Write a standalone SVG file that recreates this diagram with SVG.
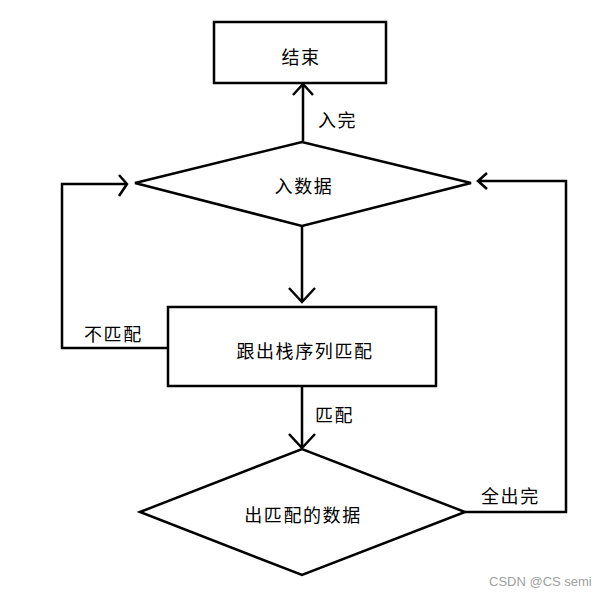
<svg xmlns="http://www.w3.org/2000/svg" width="602" height="596" viewBox="0 0 602 596">
<style>
.s{fill:#fff;stroke:#000;stroke-width:2.5}
.c{fill:none;stroke:#000;stroke-width:2.5}
.t{font-family:"Noto Sans CJK SC","Noto Sans",sans-serif;font-size:18px;fill:#000;letter-spacing:1.6px}
.m{text-anchor:middle}
.w{font-family:"Liberation Sans",Arial,sans-serif;font-size:13px;fill:#a0a0a0}
</style>
<rect width="602" height="596" fill="#fff"/>
<g id="connectors">
<path class="c" d="M303 141 V84 M293 95 L303 84 L313 95"/>
<path class="c" d="M302 226 V302 M289 288 L302 302 L315 288"/>
<path class="c" d="M302 386 V448 M289 434 L302 448 L315 434"/>
<path class="c" d="M168 348 H62 V184 H127 M119 175 L127 184 L119 196"/>
<path class="c" d="M465 512 H566 V181 H478 M487 173 L478 181 L487 189"/>
<text class="t" x="318" y="127">入完</text>
<text class="t" x="84" y="341">不匹配</text>
<text class="t" x="315" y="422">匹配</text>
<text class="t" x="481" y="503">全出完</text>
</g>
<g id="end">
<rect class="s" x="214" y="22" width="172" height="61"/>
<text class="t m" x="301" y="64">结束</text>
</g>
<g id="input">
<polygon class="s" points="135,183 302,142 471,183 302,226"/>
<text class="t m" x="304" y="193">入数据</text>
</g>
<g id="match">
<rect class="s" x="168" y="307" width="268" height="79"/>
<text class="t m" x="305" y="358">跟出栈序列匹配</text>
</g>
<g id="out">
<polygon class="s" points="140,512 302,449 465,512 302,575"/>
<text class="t m" x="303" y="522">出匹配的数据</text>
</g>
<text class="w" x="489" y="586">CSDN @CS semi</text>
</svg>
